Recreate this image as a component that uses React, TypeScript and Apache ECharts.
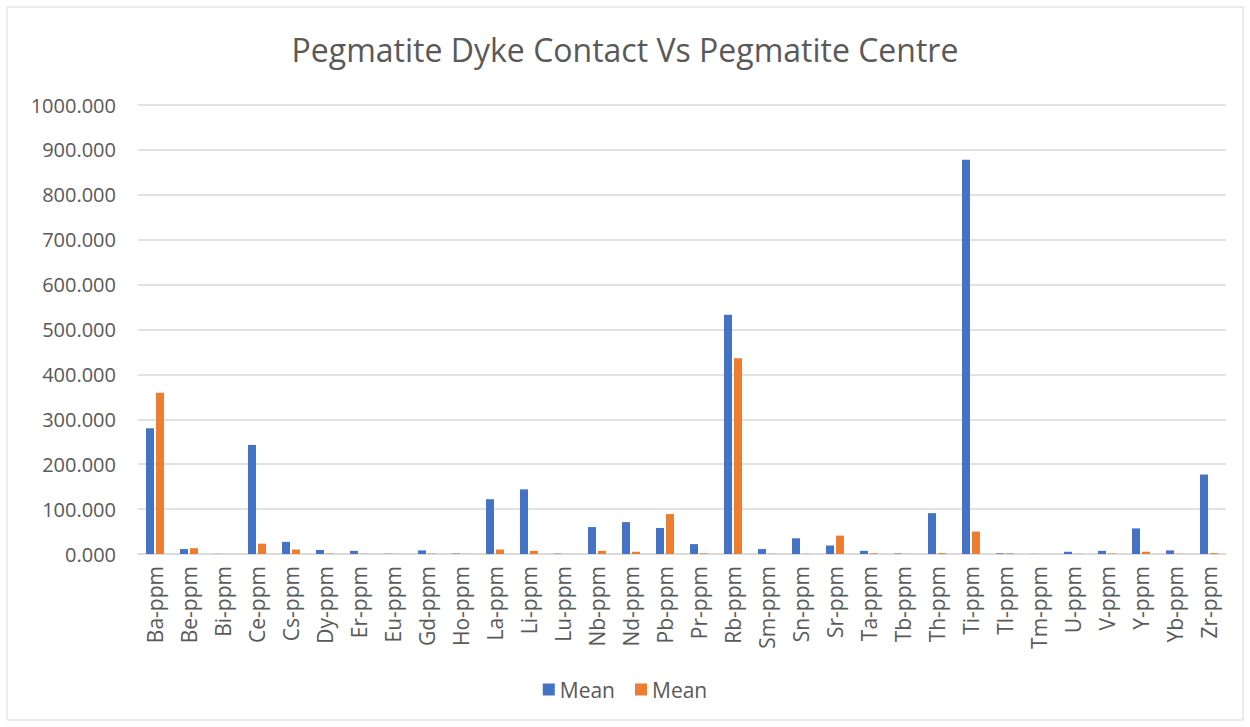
import React, { useEffect, useRef } from "react";
import * as echarts from "echarts";

const categories = ["Ba-ppm","Be-ppm","Bi-ppm","Ce-ppm","Cs-ppm","Dy-ppm","Er-ppm","Eu-ppm","Gd-ppm","Ho-ppm","La-ppm","Li-ppm","Lu-ppm","Nb-ppm","Nd-ppm","Pb-ppm","Pr-ppm","Rb-ppm","Sm-ppm","Sn-ppm","Sr-ppm","Ta-ppm","Tb-ppm","Th-ppm","Ti-ppm","Tl-ppm","Tm-ppm","U-ppm","V-ppm","Y-ppm","Yb-ppm","Zr-ppm"];
const contactMean = [280,11,0.3,243,27,9,7,0.5,8,1,122,144,0.8,60,71,58,22,533,11,35,19,7,1,91,878,1.5,0.3,5,7,57,8,177];
const centreMean = [359,13,0.1,23,10,1,0.5,0.3,1,0.3,10,7,0.2,7,5,89,1.5,436,0.5,0.5,41,1.5,0.3,2,50,1.5,0.1,0.5,1,5,0.5,2];
const title = "Pegmatite Dyke Contact Vs Pegmatite Centre";

export default function App() {
  const ref = useRef<HTMLDivElement>(null);
  useEffect(() => {
    const chart = echarts.init(ref.current!, null, { renderer: "svg" });
    const font = "'Open Sans', 'Noto Sans', sans-serif";
    chart.setOption({
      animation: false,
      backgroundColor: "#ffffff",
      textStyle: { fontFamily: font },
      title: {
        text: title,
        left: "center",
        top: 28,
        textStyle: { fontFamily: font, fontSize: 32, fontWeight: "normal", color: "#595959" },
      },
      graphic: [
        { type: "rect", shape: { x: 7, y: 7, width: 1236, height: 713 }, style: { fill: "none", stroke: "#D9D9D9", lineWidth: 1 }, silent: true },
      ],
      legend: {
        bottom: 22,
        left: "center",
        itemWidth: 12,
        itemHeight: 12,
        itemGap: 20,
        icon: "rect",
        formatter: (n: string) => n.trim(),
        textStyle: { fontFamily: font, fontSize: 21, color: "#595959" },
      },
      grid: { left: 138, right: 24, top: 105, bottom: 173, containLabel: false },
      xAxis: {
        type: "category",
        data: categories,
        axisLine: { lineStyle: { color: "#D9D9D9", width: 1.5 } },
        axisTick: { show: false },
        axisLabel: { rotate: 90, fontSize: 21, color: "#595959", margin: 12, interval: 0, fontFamily: font },
      },
      yAxis: {
        type: "value",
        min: 0,
        max: 1000,
        interval: 100,
        axisLine: { show: false },
        axisTick: { show: false },
        splitLine: { lineStyle: { color: "#D9D9D9", width: 1.5 } },
        axisLabel: { fontSize: 20, color: "#595959", margin: 22, formatter: (v: number) => v.toFixed(3), fontFamily: font },
      },
      series: [
        { name: "Mean", type: "bar", data: contactMean, barWidth: 8, barGap: "25%", itemStyle: { color: "#4472C4" } },
        { name: "Mean ", type: "bar", data: centreMean, barWidth: 8, barGap: "25%", itemStyle: { color: "#ED7D31" } },
      ],
    });
    return () => chart.dispose();
  }, []);
  return <div ref={ref} style={{ position: "fixed", left: 0, top: 0, width: 1250, height: 727 }} />;
}
